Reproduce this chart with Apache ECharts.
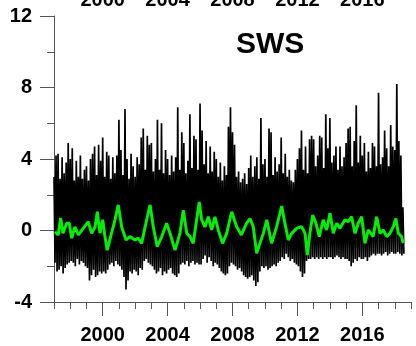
<!DOCTYPE html>
<html>
<head>
<meta charset="utf-8">
<script src="https://cdn.jsdelivr.net/npm/echarts@6/dist/echarts.min.js"></script>
<style>
html,body{margin:0;padding:0;background:#fff;}
#chart{width:416px;height:346px;}
</style>
</head>
<body>
<div id="chart"></div>
<script>
// ---- data ----
const titleText = 'SWS';
const yTicks = [-4, 0, 4, 8, 12];
const majorYears = [2000, 2004, 2008, 2012, 2016];
const startYear = 1997;
const stepYear = 1 / 8;
// per-slot (1/8 year) maximum of the black series
const blackHigh = [
  3.0, 4.2, 4.3, 2.9, 4.1, 3.2, 3.8, 4.9,
  4.0, 4.6, 2.8, 3.9, 3.0, 4.2, 2.9, 3.4,
  3.6, 2.8, 4.0, 4.3, 4.7, 3.1, 4.8, 3.9,
  5.2, 3.0, 4.4, 4.2, 2.9, 4.1, 3.2, 4.2,
  6.2, 4.5, 3.1, 6.8, 4.0, 2.9, 4.3, 3.6,
  3.0, 4.1, 3.7, 5.2, 5.7, 3.4, 5.3, 4.8,
  4.9, 3.3, 4.0, 6.2, 3.4, 6.0, 3.2, 4.5,
  4.0, 3.1, 4.2, 3.3, 4.1, 6.9, 3.4, 5.5,
  4.9, 3.2, 3.9, 6.5, 3.5, 5.3, 5.1, 3.4,
  7.1, 5.6, 3.7, 5.0, 3.2, 4.7, 3.3, 4.4,
  4.0, 3.0, 3.8, 2.8, 3.6, 3.1, 5.8, 6.9,
  5.5, 4.8, 3.0, 3.3, 2.7, 2.9, 3.2, 2.6,
  3.5, 4.2, 3.0, 3.6, 4.1, 2.9, 6.3, 3.7,
  4.0, 3.0, 5.7, 5.5, 3.1, 4.1, 3.3, 3.7,
  5.2, 3.2, 4.3, 3.0, 3.4, 2.8, 2.7, 3.4,
  4.0, 4.6, 5.6, 3.4, 4.7, 3.2, 5.1, 5.3,
  5.1, 3.6, 4.2, 5.3, 5.2, 3.5, 6.5, 4.6,
  6.3, 3.8, 4.2, 4.7, 3.4, 4.7, 3.6, 4.1,
  4.9, 5.7, 5.8, 3.6, 5.0, 7.0, 3.8, 5.3,
  4.2, 4.9, 3.3, 4.4, 3.5, 4.9, 4.7, 3.6,
  7.7, 3.7, 4.1, 5.6, 4.6, 3.6, 5.9, 4.7,
  4.5, 8.2, 5.0, 4.2, 1.3
];
// per-slot (1/8 year) minimum of the black series
const blackLow = [
  -1.8, -2.3, -2.2, -2.0, -2.4, -2.1, -1.9, -1.8,
  -1.7, -1.8, -2.0, -1.6, -1.9, -1.7, -1.8, -2.0,
  -2.1, -2.8, -2.5, -2.2, -2.6, -2.5, -2.3, -2.4,
  -2.3, -2.4, -2.2, -1.9, -1.8, -2.0, -1.7, -1.9,
  -2.0, -2.2, -2.6, -3.3, -2.8, -2.3, -2.4, -2.2,
  -2.3, -2.5, -2.1, -2.2, -1.7, -1.6, -1.8, -1.9,
  -2.0, -2.2, -2.4, -2.3, -2.1, -2.5, -2.3, -2.4,
  -2.2, -2.1, -2.4, -2.5, -2.6, -2.4, -1.9, -1.8,
  -1.9, -1.7, -2.0, -1.8, -1.7, -1.9, -1.8, -1.9,
  -1.9, -1.6, -1.4, -1.8, -1.5, -1.7, -2.0, -1.8,
  -1.9, -2.1, -2.3, -2.4, -2.5, -2.4, -2.0, -1.8,
  -1.9, -2.0, -2.2, -2.1, -2.3, -2.5, -2.6, -2.7,
  -2.6, -2.5, -2.8, -3.1, -2.9, -2.3, -2.0, -2.1,
  -2.0, -2.2, -2.1, -2.0, -1.9, -2.0, -1.8, -1.7,
  -1.5, -1.6, -1.3, -1.5, -1.7, -1.6, -1.8, -1.9,
  -2.0, -2.3, -2.6, -2.4, -1.7, -1.6, -1.6, -1.5,
  -1.6, -1.5, -1.6, -1.5, -1.6, -1.5, -1.6, -1.5,
  -1.5, -1.6, -1.5, -1.4, -1.5, -1.6, -1.5, -1.6,
  -1.6, -1.7, -2.0, -1.8, -1.6, -1.7, -1.5, -1.6,
  -1.6, -1.5, -1.7, -1.5, -1.4, -1.3, -1.4, -1.3,
  -1.3, -1.4, -1.3, -1.2, -1.4, -1.3, -1.2, -1.3,
  -1.3, -1.2, -1.3, -1.4, -1.3
];
// smoothed (green) series
const greenYears = [
  1997.06, 1997.26, 1997.41, 1997.55, 1997.78, 1997.94, 1998.09, 1998.29, 1998.5, 1998.8,
  1999.11, 1999.32, 1999.53, 1999.67, 1999.83, 2000.0, 2000.14, 2000.28, 2000.49, 2000.76,
  2000.96, 2001.17, 2001.44, 2001.68, 2001.99, 2002.19, 2002.4, 2002.71, 2002.92, 2003.12,
  2003.36, 2003.64, 2003.94, 2004.15, 2004.46, 2004.76, 2004.97, 2005.18, 2005.38, 2005.58,
  2005.95, 2006.1, 2006.3, 2006.51, 2006.72, 2006.92, 2007.12, 2007.39, 2007.64, 2007.95,
  2008.05, 2008.25, 2008.55, 2008.87, 2009.08, 2009.28, 2009.49, 2009.69, 2009.9, 2010.11,
  2010.41, 2010.72, 2011.03, 2011.23, 2011.44, 2011.65, 2011.95, 2012.26, 2012.47, 2012.61,
  2012.77, 2012.94, 2013.14, 2013.35, 2013.59, 2013.8, 2014.01, 2014.21, 2014.42, 2014.62,
  2014.93, 2015.13, 2015.34, 2015.55, 2015.75, 2015.96, 2016.16, 2016.37, 2016.67, 2016.88,
  2017.09, 2017.29, 2017.5, 2017.7, 2017.91, 2018.07, 2018.22, 2018.42, 2018.52
];
const greenValues = [
  -0.07, -0.25, 0.7, -0.15, 0.4, 0.4, -0.43, 0.2, -0.25, 0.12,
  0.49, -0.16, 0.2, 1.05, -0.15, 0.6, -0.34, -1.1, -0.34, 0.6,
  1.43, 0.2, -0.53, -0.34, -0.53, -0.43, -0.72, 0.6, 1.43, 0.2,
  -0.9, -0.34, 0.4, -0.16, -1.1, -0.16, 1.14, -0.16, -0.34, -0.72,
  1.6, 0.6, 0.2, 0.77, 0.03, 0.77, 0.03, -0.72, -0.16, 1.05,
  1.14, 0.22, -0.25, 0.41, 0.67, 0.22, -1.28, -0.72, -0.16, 0.6,
  -0.72, 0.22, 1.37, 0.41, -0.53, -0.16, 0.12, 0.22, -0.16, -1.37,
  -0.16, 0.86, 0.41, -0.34, 0.6, 0.03, 0.97, -0.16, 0.41, 0.12,
  0.6, 0.5, 0.77, -0.16, 0.41, 0.77, -0.72, 0.03, -0.34, 0.77,
  -0.16, 0.03, -0.34, -0.16, 0.22, 0.67, -0.16, -0.34, -0.7
];

// ---- build series data ----
const blackData = [];
for (let i = 0; i < blackHigh.length; i++) {
  const t = startYear + i * stepYear;
  blackData.push([t, blackHigh[i]]);
  blackData.push([t + stepYear / 2, blackLow[i]]);
}
const greenData = greenYears.map((t, i) => [t, greenValues[i]]);

const axisColor = '#555';
const labelFont = { fontFamily: 'Liberation Sans, Arial, sans-serif', fontWeight: 'bold', fontSize: 20, color: '#000' };

const chart = echarts.init(document.getElementById('chart'), null, { renderer: 'canvas' });
chart.setOption({
  animation: false,
  backgroundColor: '#fff',
  title: {
    text: titleText,
    left: 236,
    top: 30,
    padding: 0,
    textStyle: { fontFamily: 'Liberation Sans, Arial, sans-serif', fontWeight: 'bold', fontSize: 30, color: '#000' }
  },
  grid: { left: 54, right: 5, top: 16, bottom: 44, containLabel: false, outerBoundsMode: 'none' },
  xAxis: [
    {
      type: 'value', min: 1997, max: 2019, interval: 1, position: 'bottom',
      axisLine: { show: true, onZero: false, lineStyle: { color: axisColor, width: 1 } },
      axisTick: { show: true, length: 7, lineStyle: { color: axisColor, width: 1 } },
      axisLabel: { show: false },
      splitLine: { show: false }
    },
    {
      type: 'value', min: 1997, max: 2019, position: 'bottom',
      axisLine: { show: false, onZero: false },
      axisTick: { show: true, customValues: majorYears, length: 14, lineStyle: { color: axisColor, width: 1 } },
      axisLabel: Object.assign({ customValues: majorYears, margin: 23, formatter: v => String(v) }, labelFont),
      splitLine: { show: false }
    },
    {
      type: 'value', min: 1997, max: 2019, position: 'top',
      axisLine: { show: false, onZero: false },
      axisTick: { show: false },
      axisLabel: Object.assign({ customValues: majorYears, margin: 6, formatter: v => String(v) }, labelFont),
      splitLine: { show: false }
    }
  ],
  yAxis: {
    type: 'value', min: -4, max: 12, interval: 4,
    axisLine: { show: true, onZero: false, lineStyle: { color: axisColor, width: 1 } },
    axisTick: { show: true, length: 14, lineStyle: { color: axisColor, width: 1 } },
    minorTick: { show: true, splitNumber: 2, length: 7, lineStyle: { color: axisColor, width: 1 } },
    axisLabel: Object.assign({ margin: 22, customValues: yTicks }, labelFont),
    splitLine: { show: false },
    minorSplitLine: { show: false }
  },
  series: [
    {
      type: 'line', xAxisIndex: 0, data: blackData, showSymbol: false, symbol: 'none',
      lineStyle: { color: '#000', width: 1.7 }, sampling: null, silent: true, z: 2
    },
    {
      type: 'line', xAxisIndex: 0, data: greenData, showSymbol: false, symbol: 'none',
      lineStyle: { color: '#00ee00', width: 3 }, silent: true, z: 3
    }
  ]
});
</script>
</body>
</html>
